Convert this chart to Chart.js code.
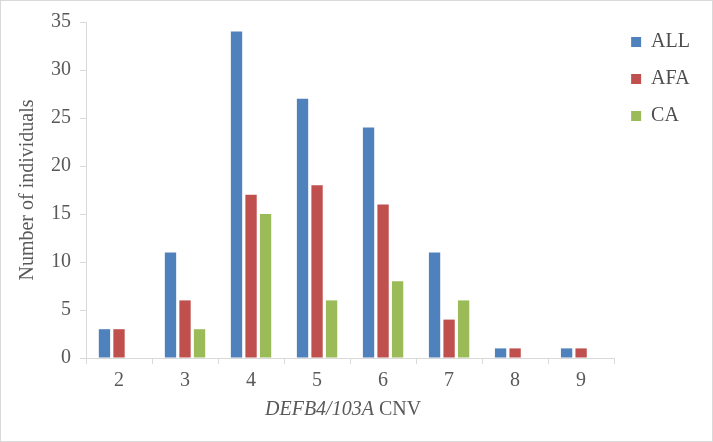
<!DOCTYPE html>
<html>
<head>
<meta charset="utf-8">
<script src="https://cdn.jsdelivr.net/npm/chart.js@4/dist/chart.umd.min.js"></script>
<style>
  html, body { margin: 0; padding: 0; background: #fff; }
  #wrap { width: 711px; height: 440px; border: 1px solid #d9d9d9; }
</style>
</head>
<body>
<div id="wrap"><canvas id="bar-chart" width="711" height="440"></canvas></div>
<script>
// data
const copyNumbers = ["2", "3", "4", "5", "6", "7", "8", "9"];
const allValues = [3, 11, 34, 27, 24, 11, 1, 1];
const afaValues = [3, 6, 17, 18, 16, 4, 1, 1];
const caValues = [0, 3, 15, 6, 8, 6, 0, 0];
const yTicks = [0, 5, 10, 15, 20, 25, 30, 35];

const serif = "'Liberation Serif', 'Times New Roman', serif";
const grey = "#595959";
const lineGrey = "#d9d9d9";

// x title with the gene name in italics
const xTitle = {
  id: 'xTitle',
  afterDraw(chart) {
    const ctx = chart.ctx;
    const a = chart.chartArea;
    const gene = "DEFB4/103A", rest = " CNV";
    ctx.save();
    ctx.fillStyle = grey;
    ctx.textBaseline = 'middle';
    ctx.font = "italic 20px " + serif;
    const w1 = ctx.measureText(gene).width;
    ctx.font = "20px " + serif;
    const w2 = ctx.measureText(rest).width;
    const x0 = (a.left + a.right) / 2 - 7 - (w1 + w2) / 2;
    const y = 409;
    ctx.font = "italic 20px " + serif;
    ctx.fillText(gene, x0, y);
    ctx.font = "20px " + serif;
    ctx.fillText(rest, x0 + w1, y);
    ctx.restore();
  }
};

new Chart(document.getElementById("bar-chart"), {
  type: 'bar',
  data: {
    labels: copyNumbers,
    datasets: [
      { label: "ALL", data: allValues, backgroundColor: "#4F81BD" },
      { label: "AFA", data: afaValues, backgroundColor: "#C0504D" },
      { label: "CA", data: caValues, backgroundColor: "#9BBB59" }
    ]
  },
  plugins: [xTitle],
  options: {
    responsive: false,
    animation: false,
    categoryPercentage: 0.66,
    barPercentage: 0.78,
    layout: { padding: { top: 14, left: 8, right: 12, bottom: 8 } },
    plugins: {
      tooltip: { enabled: false },
      legend: {
        position: 'right',
        align: 'start',
        labels: {
          boxWidth: 10,
          boxHeight: 10,
          padding: 17,
          color: "#4d4d4d",
          font: { family: serif, size: 20 }
        }
      }
    },
    scales: {
      x: {
        afterFit: (s) => { s.height = 75; },
        grid: { drawOnChartArea: false, tickLength: 6, color: lineGrey },
        border: { color: lineGrey },
        ticks: { color: grey, font: { family: serif, size: 20 }, padding: 5 }
      },
      y: {
        min: 0,
        max: 35,
        afterFit: (s) => { s.width = 77; },
        afterBuildTicks: (s) => { s.ticks = yTicks.map(v => ({ value: v })); },
        grid: { drawOnChartArea: false, tickLength: 6, color: lineGrey },
        border: { color: lineGrey },
        ticks: { color: grey, font: { family: serif, size: 20 }, padding: 9 },
        title: {
          display: true,
          text: "Number of individuals",
          color: grey,
          font: { family: serif, size: 20 },
          padding: { top: 7, bottom: 0 }
        }
      }
    }
  }
});
</script>
</body>
</html>
